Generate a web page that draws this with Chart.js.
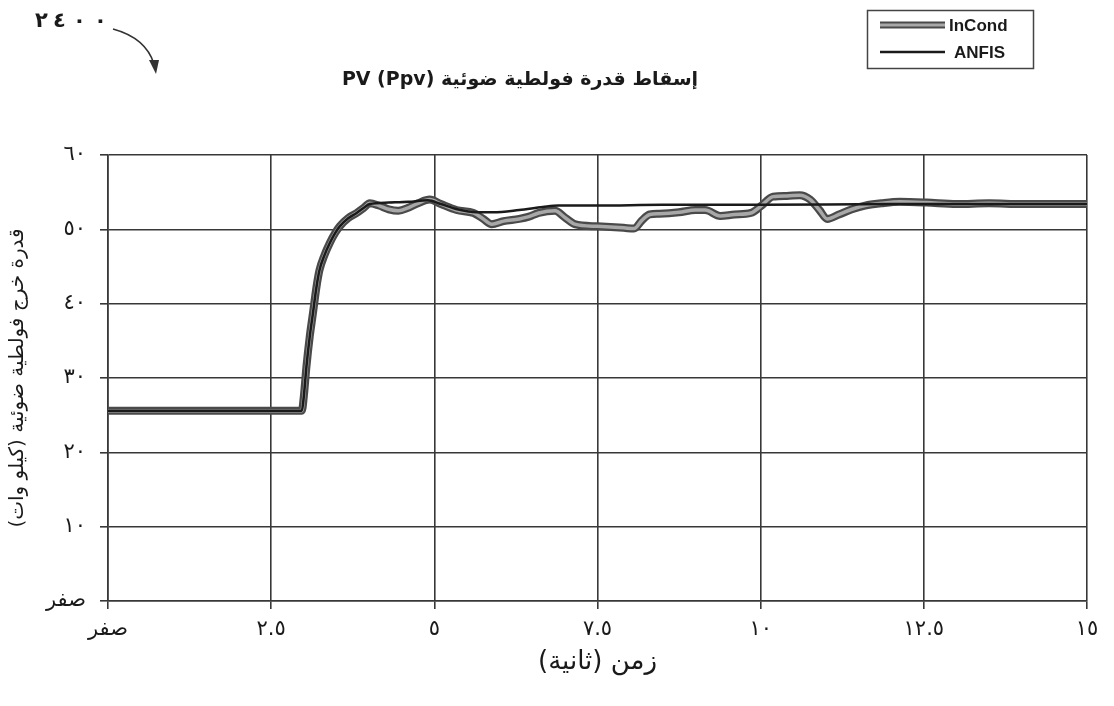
<!DOCTYPE html>
<html lang="ar">
<head>
<meta charset="utf-8">
<script src="https://cdn.jsdelivr.net/npm/chart.js@4.4.1/dist/chart.umd.min.js"></script>
<style>
  html, body { margin: 0; padding: 0; background: #ffffff; }
  canvas { display: block; }
</style>
</head>
<body>
<canvas id="c" width="1114" height="706" dir="rtl"></canvas>
<script>
// ---- Data ----
const chartTitle = 'إسقاط قدرة فولطية ضوئية PV (Ppv)';
const figureNumber = '٢٤٠٠';
const xAxisTitle = 'زمن (ثانية)';
const yAxisTitle = 'قدرة خرج فولطية ضوئية (كيلو وات)';

const xTickValues = [0, 2.5, 5, 7.5, 10, 12.5, 15];
const xTickLabels = ['صفر', '٢.٥', '٥', '٧.٥', '١٠', '١٢.٥', '١٥'];
const yTickValues = [0, 10, 20, 30, 40, 50, 60];
const yTickLabels = ['صفر', '١٠', '٢٠', '٣٠', '٤٠', '٥٠', '٦٠'];

const incondTime = [0, 2.97, 3.0, 3.04, 3.09, 3.14, 3.19, 3.24, 3.32, 3.4, 3.48, 3.55, 3.68, 3.81, 3.92, 4.01,
  4.15, 4.3, 4.45, 4.6, 4.75, 4.93, 5.1, 5.34, 5.6, 5.75, 5.88, 6.06, 6.3, 6.45, 6.6, 6.85, 7.0, 7.15,
  7.5, 7.9, 8.06, 8.18, 8.3, 8.45, 8.75, 9.0, 9.15, 9.38, 9.6, 9.85, 10.0, 10.19, 10.4, 10.6, 10.76,
  10.9, 11.02, 11.2, 11.4, 11.6, 11.85, 12.13, 12.54, 13.0, 13.5, 14.0, 14.5, 15];
const incondPower = [25.6, 25.6, 27.5, 31.5, 35.5, 38.7, 42.0, 44.5, 46.6, 48.2, 49.5, 50.4, 51.5, 52.2, 52.9, 53.5,
  53.2, 52.7, 52.5, 52.9, 53.5, 54.0, 53.4, 52.6, 52.2, 51.4, 50.7, 51.1, 51.4, 51.7, 52.2, 52.5, 51.6, 50.7,
  50.4, 50.2, 50.1, 51.2, 52.0, 52.1, 52.3, 52.6, 52.6, 51.8, 52.0, 52.2, 53.1, 54.4, 54.5, 54.6, 54.0,
  52.6, 51.4, 52.0, 52.7, 53.2, 53.5, 53.7, 53.6, 53.4, 53.5, 53.4, 53.4, 53.4];

const anfisTime = [0, 2.97, 3.0, 3.04, 3.09, 3.14, 3.19, 3.24, 3.32, 3.4, 3.48, 3.55, 3.68, 3.81, 3.92, 4.01,
  4.3, 4.6, 4.9, 5.1, 5.35, 5.65, 5.9, 6.3, 6.66, 6.9, 7.5, 8.5, 10, 12, 15];
const anfisPower = [25.6, 25.6, 27.5, 31.5, 35.5, 38.7, 42.0, 44.5, 46.6, 48.2, 49.5, 50.4, 51.5, 52.2, 52.9, 53.4,
  53.6, 53.7, 53.9, 53.4, 52.7, 52.3, 52.3, 52.6, 53.0, 53.2, 53.2, 53.3, 53.3, 53.4, 53.4];

const seriesLabels = ['InCond', 'ANFIS'];

// ---- helpers ----
const toPoints = (xs, ys) => xs.map((x, i) => ({ x: x, y: ys[i] }));
const AR_FONT = '"DejaVu Sans", "Noto Sans", sans-serif';

// custom decorations: title, legend box, figure number with arrow
const decor = {
  id: 'decor',
  afterDraw(chart) {
    const ctx = chart.ctx;
    ctx.save();
    // title
    ctx.direction = 'rtl';
    ctx.fillStyle = '#1a1a1a';
    ctx.font = 'bold 19px ' + AR_FONT;
    ctx.textAlign = 'center';
    ctx.textBaseline = 'middle';
    ctx.fillText(chartTitle, 520, 80);

    // figure number (digits spread out as in the reference)
    ctx.direction = 'ltr';
    ctx.font = 'bold 21px ' + AR_FONT;
    ctx.textAlign = 'left';
    const digitX = [35, 53, 73, 94];
    Array.from(figureNumber).forEach((ch, i) => ctx.fillText(ch, digitX[i], 22));
    // arrow
    ctx.strokeStyle = '#333';
    ctx.lineWidth = 1.6;
    ctx.beginPath();
    ctx.moveTo(113, 29);
    ctx.quadraticCurveTo(146, 38, 154, 64);
    ctx.stroke();
    ctx.fillStyle = '#333';
    ctx.beginPath();
    ctx.moveTo(156, 74);
    ctx.lineTo(149, 60);
    ctx.lineTo(159, 60);
    ctx.closePath();
    ctx.fill();

    // legend
    ctx.strokeStyle = '#444';
    ctx.lineWidth = 1.5;
    ctx.strokeRect(867.5, 10.5, 166, 58);
    const items = chart.data.datasets.filter(d => d.legendItem !== false);
    items.forEach((ds, i) => {
      const y = 25 + i * 27;
      if (ds.label === seriesLabels[0]) {
        ctx.strokeStyle = '#4a4a4a'; ctx.lineWidth = 7;
        ctx.beginPath(); ctx.moveTo(880, y); ctx.lineTo(945, y); ctx.stroke();
        ctx.strokeStyle = '#a8a8a8'; ctx.lineWidth = 3;
        ctx.beginPath(); ctx.moveTo(880, y); ctx.lineTo(945, y); ctx.stroke();
      } else {
        ctx.strokeStyle = ds.borderColor; ctx.lineWidth = 2.5;
        ctx.beginPath(); ctx.moveTo(880, y); ctx.lineTo(945, y); ctx.stroke();
      }
      ctx.fillStyle = '#1a1a1a';
      ctx.font = 'bold 17px "Liberation Sans", Arial, sans-serif';
      ctx.textAlign = 'left';
      ctx.textBaseline = 'middle';
      ctx.fillText(ds.label, i === 0 ? 949 : 954, y + 1);
    });
    ctx.restore();
  }
};

const gridColor = '#383838';

new Chart(document.getElementById('c'), {
  type: 'line',
  data: {
    datasets: [
      {
        label: seriesLabels[0],
        data: toPoints(incondTime, incondPower),
        borderColor: '#4a4a4a',
        borderWidth: 8,
        pointRadius: 0,
        cubicInterpolationMode: 'monotone',
        order: 3
      },
      {
        label: seriesLabels[0],
        legendItem: false,
        data: toPoints(incondTime, incondPower),
        borderColor: '#a8a8a8',
        borderWidth: 3.5,
        pointRadius: 0,
        cubicInterpolationMode: 'monotone',
        order: 2
      },
      {
        label: seriesLabels[1],
        data: toPoints(anfisTime, anfisPower),
        borderColor: '#1a1a1a',
        borderWidth: 2.5,
        pointRadius: 0,
        cubicInterpolationMode: 'monotone',
        order: 1
      }
    ]
  },
  options: {
    responsive: false,
    animation: false,
    events: [],
    layout: { padding: { top: 155, right: 27, left: 0, bottom: 0 } },
    plugins: {
      legend: { display: false },
      title: { display: false },
      tooltip: { enabled: false }
    },
    scales: {
      x: {
        type: 'linear',
        min: 0,
        max: 15,
        afterFit: s => { s.height = 105; },
        afterBuildTicks: s => { s.ticks = xTickValues.map(v => ({ value: v })); },
        ticks: {
          color: '#1a1a1a',
          font: { family: AR_FONT, size: 21 },
          padding: 8,
          maxRotation: 0,
          autoSkip: false,
          callback: (v) => xTickLabels[xTickValues.indexOf(v)]
        },
        grid: { color: gridColor, lineWidth: 1.6, tickLength: 8, tickColor: gridColor },
        border: { color: gridColor, width: 1.6 },
        title: {
          display: true,
          text: xAxisTitle,
          color: '#1a1a1a',
          font: { family: AR_FONT, size: 26 },
          padding: { top: 0, bottom: 28 }
        }
      },
      y: {
        type: 'linear',
        min: 0,
        max: 60,
        afterFit: s => { s.width = 108; },
        afterBuildTicks: s => { s.ticks = yTickValues.map(v => ({ value: v })); },
        ticks: {
          color: '#1a1a1a',
          font: { family: AR_FONT, size: 21 },
          padding: 14,
          autoSkip: false,
          callback: (v) => yTickLabels[yTickValues.indexOf(v)]
        },
        grid: { color: gridColor, lineWidth: 1.6, tickLength: 8, tickColor: gridColor },
        border: { color: gridColor, width: 1.6 },
        title: {
          display: true,
          text: yAxisTitle,
          color: '#1a1a1a',
          font: { family: AR_FONT, size: 20 },
          padding: { top: 6, bottom: 0 }
        }
      }
    }
  },
  plugins: [decor]
});
</script>
</body>
</html>
